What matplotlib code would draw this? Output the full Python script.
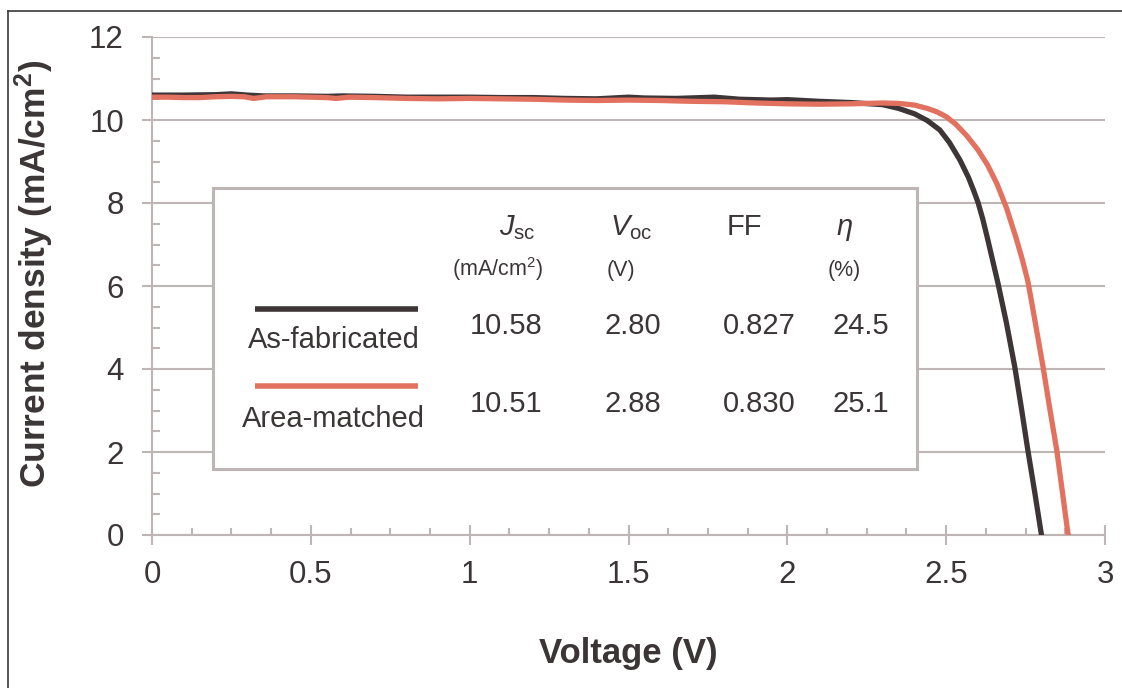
import matplotlib
matplotlib.use("Agg")
import matplotlib.pyplot as plt
from matplotlib.patches import Rectangle
from matplotlib.lines import Line2D
from matplotlib.ticker import MultipleLocator, FuncFormatter

plt.rcParams["font.family"] = "Liberation Sans"
plt.rcParams["mathtext.fontset"] = "custom"
plt.rcParams["mathtext.rm"] = "Liberation Sans"
plt.rcParams["mathtext.it"] = "Liberation Sans:italic"
plt.rcParams["mathtext.bf"] = "Liberation Sans:bold"

# ------------------------------------------------------------------
# datos (J-V)
# ------------------------------------------------------------------
v_fab = [0.00, 0.10, 0.20, 0.25, 0.30, 0.35, 0.45, 0.55, 0.60, 0.70, 0.80,
         0.90, 1.00, 1.10, 1.20, 1.30, 1.40, 1.50, 1.55, 1.65, 1.77, 1.85,
         1.95, 2.00, 2.10, 2.20, 2.30, 2.35, 2.40, 2.44, 2.48, 2.51, 2.543,
         2.57, 2.585, 2.60, 2.615, 2.63, 2.663, 2.69, 2.716, 2.737, 2.757,
         2.779, 2.800]
j_fab = [10.60, 10.60, 10.61, 10.63, 10.60, 10.58, 10.58, 10.57, 10.58, 10.57, 10.55,
         10.55, 10.55, 10.54, 10.54, 10.52, 10.51, 10.55, 10.53, 10.52, 10.55, 10.50,
         10.48, 10.49, 10.45, 10.42, 10.37, 10.28, 10.15, 9.99, 9.76, 9.46, 9.04,
         8.62, 8.33, 8.02, 7.62, 7.15, 6.07, 5.10, 4.05, 3.05, 2.05,
         1.02, 0.00]

v_area = [0.00, 0.05, 0.10, 0.15, 0.20, 0.25, 0.29, 0.32, 0.36, 0.45, 0.55,
          0.58, 0.62, 0.70, 0.80, 0.90, 1.00, 1.10, 1.20, 1.30, 1.40, 1.50,
          1.60, 1.70, 1.80, 1.90, 2.00, 2.10, 2.20, 2.30, 2.35, 2.40, 2.44,
          2.47, 2.50, 2.53, 2.565, 2.60, 2.63, 2.66, 2.69, 2.72, 2.74, 2.757,
          2.768, 2.78, 2.805, 2.826, 2.848, 2.866, 2.884]
j_area = [10.55, 10.55, 10.54, 10.54, 10.56, 10.57, 10.56, 10.52, 10.56, 10.56, 10.54,
          10.52, 10.55, 10.54, 10.52, 10.51, 10.52, 10.51, 10.50, 10.48, 10.47, 10.48,
          10.47, 10.45, 10.44, 10.41, 10.39, 10.38, 10.39, 10.41, 10.40, 10.36, 10.28,
          10.20, 10.08, 9.90, 9.62, 9.28, 8.92, 8.46, 7.88, 7.16, 6.63, 6.12,
          5.66, 5.14, 4.05, 3.05, 2.05, 1.03, 0.00]

# tabla de parametros
nombres = ["As-fabricated", "Area-matched"]
jsc = [10.58, 10.51]
voc = [2.80, 2.88]
ff = [0.827, 0.830]
eta = [24.5, 25.1]

NEGRO = "#3d3536"
NARANJA = "#e2725f"
GRIS = "#bdb6b4"
TEXTO = "#3b3536"

fig = plt.figure(figsize=(11.22, 6.88), dpi=100)
ax = fig.add_axes([152 / 1122, 153 / 688, 953 / 1122, 498 / 688])

ax.plot(v_fab, j_fab, color=NEGRO, lw=3.8, zorder=3)
ax.plot(v_area, j_area, color=NARANJA, lw=3.8, zorder=4)

ax.set_xlim(0, 3)
ax.set_ylim(0, 12)
ax.xaxis.set_major_locator(MultipleLocator(0.5))
ax.xaxis.set_minor_locator(MultipleLocator(0.125))
ax.yaxis.set_major_locator(MultipleLocator(2))
ax.yaxis.set_minor_locator(MultipleLocator(0.5))
ax.xaxis.set_major_formatter(FuncFormatter(lambda v, p: "%g" % v))

ax.set_axisbelow(True)
ax.yaxis.grid(True, which="major", color=GRIS, lw=1.5)
for s in ["top", "right"]:
    ax.spines[s].set_visible(False)
for s in ["left", "bottom"]:
    ax.spines[s].set_color(GRIS)
    ax.spines[s].set_linewidth(1.5)

ax.tick_params(axis="x", which="major", direction="inout", length=14, width=1.5,
               color=GRIS, pad=11, labelsize=22.5, labelcolor=TEXTO)
ax.tick_params(axis="x", which="minor", direction="in", length=5.3, width=1.5, color=GRIS)
ax.tick_params(axis="y", which="major", direction="out", length=7.2, width=1.5,
               color=GRIS, pad=13, labelsize=22.5, labelcolor=TEXTO)
ax.tick_params(axis="y", which="minor", direction="in", length=5.8, width=1.5, color=GRIS)

ax.set_xlabel("Voltage (V)", fontsize=25, fontweight="bold", color=TEXTO)
ax.xaxis.set_label_coords(0.5, -0.205)
ax.set_ylabel(r"Current density (mA/cm$^{\mathbf{2}}$)", fontsize=25.5,
              fontweight="bold", color=TEXTO)
ax.yaxis.set_label_coords(-0.101, 0.525)

# ------------------------------------------------------------------
# recuadro con la tabla
# ------------------------------------------------------------------
ax.add_patch(Rectangle((0.192, 1.59), 2.216, 6.77, facecolor="white",
                       edgecolor=GRIS, lw=2.2, zorder=2))

fs = 21
ax.text(1.149, 7.23, r"$J_{\mathrm{sc}}$", fontsize=fs, color=TEXTO, ha="center", va="baseline", zorder=5)
ax.text(1.508, 7.23, r"$V_{\mathrm{oc}}$", fontsize=fs, color=TEXTO, ha="center", va="baseline", zorder=5)
ax.text(1.866, 7.23, "FF", fontsize=fs, color=TEXTO, ha="center", va="baseline", zorder=5)
ax.text(2.181, 7.23, "η", fontsize=fs, style="italic", color=TEXTO, ha="center", va="baseline", zorder=5)
ax.text(1.089, 6.24, r"(mA/cm$^{2}$)", fontsize=15.5, color=TEXTO, ha="center", va="baseline", zorder=5)
ax.text(1.476, 6.24, "(V)", fontsize=15.5, color=TEXTO, ha="center", va="baseline", zorder=5)
ax.text(2.178, 6.24, "(%)", fontsize=15.5, color=TEXTO, ha="center", va="baseline", zorder=5)

fila_y = [4.84, 2.96]
linea_y = [5.45, 3.59]
nombre_y = [4.51, 2.60]
colores = [NEGRO, NARANJA]
for k in range(2):
    ax.plot([0.324, 0.837], [linea_y[k], linea_y[k]], color=colores[k], lw=4, zorder=5,
            solid_capstyle="butt")
    ax.text(0.572, nombre_y[k], nombres[k], fontsize=fs, color=TEXTO, ha="center",
            va="baseline", zorder=5)
    ax.text(1.114, fila_y[k], "%.2f" % jsc[k], fontsize=fs, color=TEXTO, ha="center", va="baseline", zorder=5)
    ax.text(1.514, fila_y[k], "%.2f" % voc[k], fontsize=fs, color=TEXTO, ha="center", va="baseline", zorder=5)
    ax.text(1.911, fila_y[k], "%.3f" % ff[k], fontsize=fs, color=TEXTO, ha="center", va="baseline", zorder=5)
    ax.text(2.232, fila_y[k], "%.1f" % eta[k], fontsize=fs, color=TEXTO, ha="center", va="baseline", zorder=5)

# marco de la figura (izquierda y arriba)
x_borde = 8.3 / 1122
y_borde = 1 - 10.7 / 688
fig.add_artist(Line2D([x_borde, x_borde], [0, y_borde], transform=fig.transFigure,
                      color="#3a3a3a", lw=1.2))
fig.add_artist(Line2D([x_borde, 1], [y_borde, y_borde], transform=fig.transFigure,
                      color="#3a3a3a", lw=1.2))

fig.savefig("out.png", dpi=100)
